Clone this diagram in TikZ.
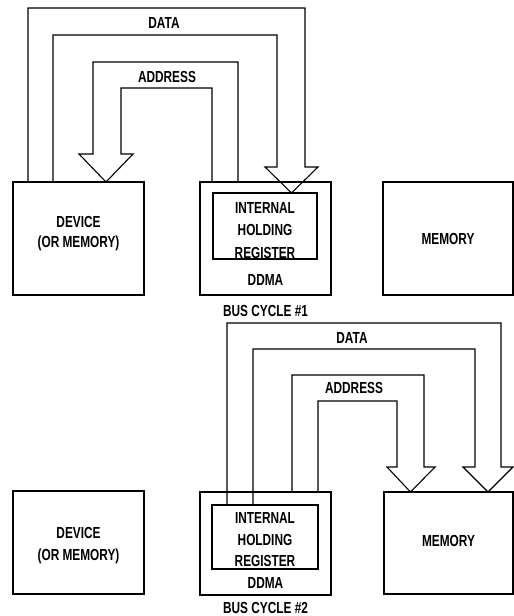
\documentclass[tikz,border=0pt]{standalone}
\usepackage{fontspec}
\newfontfamily\labfont[FakeStretch=0.74]{Liberation Sans Bold}
\begin{document}
\begin{tikzpicture}[x=1pt,y=-1pt,line width=1.1pt,line join=miter,
  box/.style={draw,rectangle,inner sep=0pt},
  lbl/.style={font=\labfont\fontsize{16}{19}\selectfont,inner sep=0pt,anchor=base},
  busline/.style={draw}]
\useasboundingbox (0,0) rectangle (514,616);
% ---------- bus cycle 1 ----------
\node[box,minimum width=131pt,minimum height=113pt] (dev1) at (78.5,238.5) {};
\node[box,minimum width=131pt,minimum height=113pt] (ddma1) at (265.5,238.5) {};
\node[box,minimum width=104pt,minimum height=66pt] (reg1) at (265,226) {};
\node[box,minimum width=130pt,minimum height=113pt] (mem1) at (448,238.5) {};
\node[lbl] (dev1a) at (78.5,227) {DEVICE};
\node[lbl] (dev1b) at (78.5,247) {(OR MEMORY)};
\node[lbl] (reg1a) at (265,213) {INTERNAL};
\node[lbl] (reg1b) at (265,235) {HOLDING};
\node[lbl] (reg1c) at (265,258) {REGISTER};
\node[lbl] (ddma1t) at (265.5,285) {DDMA};
\node[lbl] (cyc1) at (265.5,316) {BUS CYCLE \#1};
\node[lbl] (mem1t) at (448,244) {MEMORY};
\node[lbl] (data1) at (164,28) {DATA};
\node[lbl] (addr1) at (167,82) {ADDRESS};
\draw[busline] (28,182) -- (28,8) -- (305,8) -- (305,167) -- (318,167) -- (291.5,193) -- (265,167) -- (277,167) -- (277,35) -- (53,35) -- (53,182);
\draw[busline] (238,182) -- (238,62) -- (93,62) -- (93,154) -- (79,154) -- (106,182) -- (133,154) -- (121,154) -- (121,88) -- (212,88) -- (212,182);
% ---------- bus cycle 2 ----------
\node[box,minimum width=131pt,minimum height=103pt] (dev2) at (78.5,542.5) {};
\node[box,minimum width=131pt,minimum height=103pt] (ddma2) at (265.5,543.5) {};
\node[box,minimum width=106pt,minimum height=64pt] (reg2) at (265,537) {};
\node[box,minimum width=129pt,minimum height=102pt] (mem2) at (448.5,543) {};
\node[lbl] (dev2a) at (78.5,538) {DEVICE};
\node[lbl] (dev2b) at (78.5,560) {(OR MEMORY)};
\node[lbl] (reg2a) at (265,523) {INTERNAL};
\node[lbl] (reg2b) at (265,545) {HOLDING};
\node[lbl] (reg2c) at (265,566) {REGISTER};
\node[lbl] (ddma2t) at (265.5,588) {DDMA};
\node[lbl] (cyc2) at (265.5,613) {BUS CYCLE \#2};
\node[lbl] (mem2t) at (448.5,546) {MEMORY};
\node[lbl] (data2) at (352,343) {DATA};
\node[lbl] (addr2) at (354,393) {ADDRESS};
\draw[busline] (227,505) -- (227,323) -- (501,323) -- (501,467) -- (513,467) -- (488,492) -- (463,467) -- (475,467) -- (475,349) -- (253,349) -- (253,505);
\draw[busline] (292,492) -- (292,375) -- (424,375) -- (424,467) -- (435,467) -- (410.5,492) -- (387,467) -- (397,467) -- (397,401) -- (318,401) -- (318,492);
\end{tikzpicture}
\end{document}
